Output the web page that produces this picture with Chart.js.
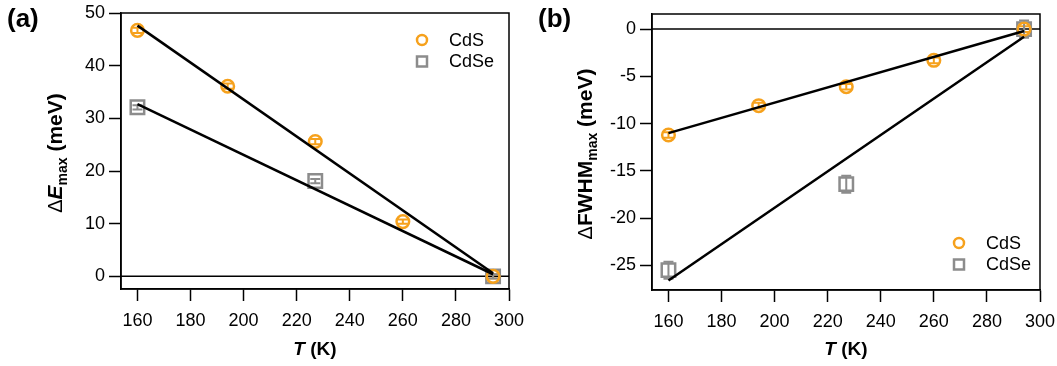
<!DOCTYPE html>
<html>
<head>
<meta charset="utf-8">
<script src="https://cdn.jsdelivr.net/npm/chart.js@4.4.1/dist/chart.umd.min.js"></script>
<style>
  html, body { margin: 0; padding: 0; background: #fff; }
  #wrap { position: relative; width: 1057px; height: 366px; }
  .panel { position: absolute; top: 0; height: 366px; }
</style>
</head>
<body>
<div id="wrap">
  <div class="panel" style="left:0;width:528px"><canvas id="chartA"></canvas></div>
  <div class="panel" style="left:528px;width:529px"><canvas id="chartB"></canvas></div>
</div>
<script>
// temperatures (K)
const tempCdS = [160, 194, 227, 260, 294];
const tempCdSe = [160, 227, 294];
const fitTemp = [160, 294];

// (a) peak energy shift, meV
const dECdS = [46.7, 36.1, 25.6, 10.4, 0];
const dECdSe = [32.1, 18.1, 0];
const dECdSErr = [0.5, 0.5, 0.5, 0.4, 0.4];
const dECdSeErr = [0.4, 0.4, 0.4];
const fitECdS = [47.6, 0.6];
const fitECdSe = [32.7, 0.4];

// (b) FWHM change, meV
const dFCdS = [-11.2, -8.1, -6.1, -3.3, 0];
const dFCdSe = [-25.5, -16.4, 0];
const dFCdSErr = [0.3, 0.3, 0.3, 0.3, 0.3];
const dFCdSeErr = [0.9, 0.9, 0.9];
const fitFCdS = [-11.0, -0.2];
const fitFCdSe = [-26.6, -0.8];

const xTicks = [160, 180, 200, 220, 240, 260, 280, 300];
const yTicksA = [0, 10, 20, 30, 40, 50];
const yTicksB = [-25, -20, -15, -10, -5, 0];
const seriesNames = ["CdS", "CdSe"];

const ORANGE = "#f6a11c";
const GRAY = "#8c8c8c";
const FONT = "'Liberation Sans', Arial, sans-serif";

const pts = (xs, ys) => xs.map((x, i) => ({ x, y: ys[i] }));

function markerSet(label, xs, ys, errs, color, style) {
  return {
    label,
    data: pts(xs, ys),
    errs,
    pointStyle: style,
    pointRadius: style === "rect" ? 9.5 : 6.3,
    pointBorderWidth: 2.5,
    borderColor: color,
    backgroundColor: "transparent",
    showLine: false,
    order: 2,
  };
}

function fitSet(ys) {
  return {
    label: "fit",
    data: pts(fitTemp, ys),
    showLine: true,
    borderColor: "#000",
    borderWidth: 2.5,
    pointRadius: 0,
    order: 0,
  };
}

// error bars, zero line, frame, legend, panel label, rich axis titles
const extras = {
  id: "extras",
  beforeDatasetsDraw(chart) {
    const { ctx, scales: { x, y }, chartArea: a } = chart;
    ctx.save();
    // zero line
    ctx.strokeStyle = "#000";
    ctx.lineWidth = 1.5;
    const y0 = y.getPixelForValue(0);
    ctx.beginPath();
    ctx.moveTo(a.left, y0);
    ctx.lineTo(a.right, y0);
    ctx.stroke();
    // error bars
    chart.data.datasets.forEach((ds) => {
      if (!ds.errs) return;
      ctx.strokeStyle = ds.borderColor;
      ctx.lineWidth = 2;
      ds.data.forEach((p, i) => {
        const px = x.getPixelForValue(p.x);
        const top = y.getPixelForValue(p.y + ds.errs[i]);
        const bot = y.getPixelForValue(p.y - ds.errs[i]);
        ctx.beginPath();
        ctx.moveTo(px, top); ctx.lineTo(px, bot);
        ctx.moveTo(px - 5, top); ctx.lineTo(px + 5, top);
        ctx.moveTo(px - 5, bot); ctx.lineTo(px + 5, bot);
        ctx.stroke();
      });
    });
    ctx.restore();
  },
  afterDraw(chart, args, opts) {
    const { ctx, chartArea: a } = chart;
    ctx.save();
    // frame
    ctx.strokeStyle = "#000";
    ctx.lineWidth = 1.5;
    ctx.strokeRect(a.left, a.top, a.right - a.left, a.bottom - a.top);

    // legend
    ctx.textBaseline = "middle";
    ctx.textAlign = "left";
    ctx.font = "18px " + FONT;
    const L = opts.legend;
    [[ORANGE, "circle"], [GRAY, "rect"]].forEach(([c, s], i) => {
      const cy = L.y + i * 21.5;
      ctx.strokeStyle = c;
      ctx.lineWidth = 2.5;
      ctx.beginPath();
      if (s === "circle") ctx.arc(L.x, cy, 5, 0, Math.PI * 2);
      else ctx.rect(L.x - 5, cy - 5, 10, 10);
      ctx.stroke();
      ctx.fillStyle = "#000";
      ctx.fillText(seriesNames[i], L.x + 27, cy + 1);
    });

    // panel label
    ctx.font = "bold 26px " + FONT;
    ctx.textBaseline = "alphabetic";
    ctx.fillText(opts.panel, opts.panelX, 27);

    // x title
    drawRich(ctx, [
      { t: "T", f: "bold italic 19px " + FONT },
      { t: " (K)", f: "bold 19px " + FONT },
    ], (a.left + a.right) / 2, 348, false);

    // y title
    drawRich(ctx, opts.yTitle, opts.yTitleX, (a.top + a.bottom) / 2 + 2, true);
    ctx.restore();
  },
};

function drawRich(ctx, parts, cx, cy, rotate) {
  ctx.save();
  ctx.fillStyle = "#000";
  ctx.textBaseline = "alphabetic";
  ctx.textAlign = "left";
  let w = 0;
  parts.forEach((p) => { ctx.font = p.f; w += ctx.measureText(p.t).width; });
  ctx.translate(cx, cy);
  if (rotate) ctx.rotate(-Math.PI / 2);
  let xpos = -w / 2;
  parts.forEach((p) => {
    ctx.font = p.f;
    ctx.fillText(p.t, xpos, 7 + (p.dy || 0));
    xpos += ctx.measureText(p.t).width;
  });
  ctx.restore();
}

function axes(yMin, yMax, yTicks, yWidth, xHeight) {
  const grid = {
    display: true,
    drawOnChartArea: false,
    drawTicks: true,
    tickLength: 12,
    tickWidth: 1.5,
    tickColor: "#000",
  };
  const border = { display: true, color: "#000", width: 1.5 };
  const ticks = { color: "#000", font: { size: 18, family: FONT } };
  return {
    x: {
      type: "linear", min: 153.8, max: 300,
      grid, border,
      ticks: { ...ticks, padding: 9, maxRotation: 0 },
      afterBuildTicks: (s) => { s.ticks = xTicks.map((v) => ({ value: v })); },
      afterFit: (s) => { s.height = xHeight; s.paddingLeft = 0; s.paddingRight = 0; },
    },
    y: {
      type: "linear", min: yMin, max: yMax,
      grid, border,
      ticks: { ...ticks, padding: 4 },
      afterBuildTicks: (s) => { s.ticks = yTicks.map((v) => ({ value: v })); },
      afterFit: (s) => { s.width = yWidth; s.paddingTop = 0; s.paddingBottom = 0; },
    },
  };
}

function makeChart(id, datasets, scales, padding, extraOpts) {
  return new Chart(document.getElementById(id), {
    type: "scatter",
    data: { datasets },
    options: {
      responsive: true,
      maintainAspectRatio: false,
      animation: false,
      layout: { padding },
      scales,
      plugins: { legend: { display: false }, tooltip: { enabled: false }, extras: extraOpts },
    },
    plugins: [extras],
  });
}

makeChart("chartA", [
  fitSet(fitECdS),
  fitSet(fitECdSe),
  markerSet("CdS", tempCdS, dECdS, dECdSErr, ORANGE, "circle"),
  markerSet("CdSe", tempCdSe, dECdSe, dECdSeErr, GRAY, "rect"),
], axes(-2.4, 50, yTicksA, 121, 77), { top: 13, right: 19, left: 0, bottom: 0 }, {
  panel: "(a)", panelX: 7,
  legend: { x: 422, y: 40 },
  yTitleX: 55,
  yTitle: [
    { t: "\u0394", f: "20px " + FONT },
    { t: "E", f: "bold italic 21px " + FONT },
    { t: "max", f: "bold 14px " + FONT, dy: 5 },
    { t: " (meV)", f: "bold 21px " + FONT },
  ],
});

makeChart("chartB", [
  fitSet(fitFCdS),
  fitSet(fitFCdSe),
  markerSet("CdS", tempCdS, dFCdS, dFCdSErr, ORANGE, "circle"),
  markerSet("CdSe", tempCdSe, dFCdSe, dFCdSeErr, GRAY, "rect"),
], axes(-27.6, 1.6, yTicksB, 124, 76), { top: 14, right: 17, left: 0, bottom: 0 }, {
  panel: "(b)", panelX: 10,
  legend: { x: 431, y: 243 },
  yTitleX: 57,
  yTitle: [
    { t: "\u0394", f: "20px " + FONT },
    { t: "FWHM", f: "bold 21px " + FONT },
    { t: "max", f: "bold 14px " + FONT, dy: 5 },
    { t: " (meV)", f: "bold 21px " + FONT },
  ],
});
</script>
</body>
</html>
